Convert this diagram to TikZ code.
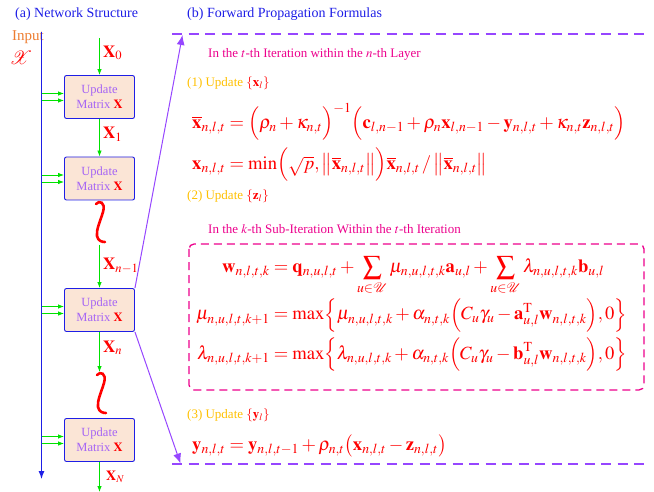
\documentclass[tikz,border=0pt]{standalone}
\usepackage{amsmath}
\usepackage{mathptmx}
\usepackage[no-math]{fontspec}
\setmainfont{Liberation Serif}
\usetikzlibrary{arrows.meta,calc,positioning}

\definecolor{netblue}{RGB}{30,30,230}
\definecolor{ingreen}{RGB}{0,225,0}
\definecolor{boxfill}{RGB}{251,229,214}
\definecolor{boxtext}{RGB}{165,100,245}
\definecolor{linkpurple}{RGB}{150,70,255}
\definecolor{stepyellow}{RGB}{255,192,0}
\definecolor{inorange}{RGB}{237,125,49}

\tikzset{
  layerbox/.style={draw=netblue, line width=0.9pt, fill=boxfill, rounded corners=2pt,
    minimum width=70pt, minimum height=43pt, inner sep=0pt, align=center,
    text=boxtext, font=\fontsize{12.5}{15}\selectfont},
  flow/.style={draw=ingreen, line width=0.8pt, -{Latex[length=6pt,width=4.5pt]}},
  bus/.style={draw=netblue, line width=1pt, -{Latex[length=8pt,width=6pt]}},
  link/.style={draw=linkpurple, line width=1pt, -{Latex[length=10pt,width=8pt]}},
  sepline/.style={draw=linkpurple, line width=1.8pt, dash pattern=on 10pt off 6.5pt},
  vlabel/.style={text=red, font=\fontsize{17}{18}\selectfont, anchor=west, inner sep=0pt},
  heading/.style={text=netblue, font=\fontsize{14}{16}\selectfont, anchor=west, inner sep=0pt},
  stephead/.style={text=stepyellow, font=\fontsize{13}{15}\selectfont, anchor=west, inner sep=0pt},
  loophead/.style={text=magenta, font=\fontsize{13}{15}\selectfont, anchor=west, inner sep=0pt},
  eqn/.style={text=red, font=\fontsize{18.6}{22}\selectfont, anchor=west, inner sep=0pt},
}

\newcommand{\squig}[1]{% vertical red squiggle hanging from (#1)
  \draw[red, line width=2.6pt, line cap=round] (#1)
    .. controls ($(#1)+(3,-4)$) and ($(#1)+(10,-2)$) .. ($(#1)+(7,8)$)
    .. controls ($(#1)+(4,18)$) and ($(#1)+(0,26)$) .. ($(#1)+(1,32)$)
    .. controls ($(#1)+(2,37)$) and ($(#1)+(6,38)$) .. ($(#1)+(9,38)$);
}

\begin{document}
\begin{tikzpicture}[x=1pt,y=-1pt]
  \useasboundingbox (0,0) rectangle (654,492);
  % (a) network
  \node[heading] (titlea) at (15,14) {(a) Network Structure};
  \node[anchor=west, inner sep=0pt, text=inorange, font=\fontsize{15}{16}\selectfont] (inlabel) at (12,37) {Input};
  \node[text=red, inner sep=0pt, font=\fontsize{19}{20}\selectfont] (inset) at (21,58) {$\mathcal{X}$};
  \coordinate (bustop) at (41.5,32);
  \coordinate (busend) at (41.5,479);
  \draw[bus] (bustop) -- (busend);

  \node[layerbox] (upd1) at (99.5,97) {Update\\Matrix {\color{red}$\mathbf{X}$}};
  \node[layerbox] (upd2) at (99.5,178.5) {Update\\Matrix {\color{red}$\mathbf{X}$}};
  \node[layerbox] (upd3) at (99.5,310) {Update\\Matrix {\color{red}$\mathbf{X}$}};
  \node[layerbox] (upd4) at (99.5,440) {Update\\Matrix {\color{red}$\mathbf{X}$}};

  \foreach \b in {upd1,upd2,upd3,upd4} {
    \foreach \d in {-3.5,3.5} {
      \coordinate (tap) at ($(\b.west)+(0,\d)$);
      \draw[flow] (tap -| bustop) -- (tap);
    }
  }

  \coordinate (x0) at (99.5,38);
  \coordinate (sq1) at (96,204);
  \coordinate (sq1end) at (99.5,245);
  \coordinate (sq2top) at (99.5,372);
  \coordinate (sq2) at (97,375);
  \coordinate (xout) at (99.5,492);
  \draw[flow] (x0) -- (upd1.north);
  \draw[flow] (upd1.south) -- (upd2.north);
  \draw[flow] (sq1end) -- (upd3.north);
  \draw[flow] (upd3.south) -- (sq2top);
  \draw[flow] (upd4.south) -- (xout);
  \squig{sq1}
  \squig{sq2}
  \node[vlabel] (lx0) at (103,53) {$\mathbf{X}_0$};
  \node[vlabel] (lx1) at (103,134) {$\mathbf{X}_1$};
  \node[vlabel] (lxn1) at (103,266) {$\mathbf{X}_{n-1}$};
  \node[vlabel] (lxn) at (103,348) {$\mathbf{X}_n$};
  \node[vlabel, font=\fontsize{14}{15}\selectfont] (lxN) at (106,477) {$\mathbf{X}_N$};

  % (b) formulas
  \node[heading] (titleb) at (187,14) {(b) Forward Propagation Formulas};
  \draw[sepline] (172,34) -- (646,34);
  \draw[sepline] (172,464) -- (646,464);
  \coordinate (linktop) at (182.5,35);
  \coordinate (linkbot) at (180.5,463.5);
  \draw[link] (upd3.north east) -- (linktop);
  \draw[link] (upd3.south east) -- (linkbot);

  \node[loophead] (iterhead) at (208,54) {In the $t$-th Iteration within the $n$-th Layer};
  \node[stephead] (step1) at (187,83) {(1) Update {\color{red}$\{\mathbf{x}_l\}$}};
  \node[eqn] (eqxbar) at (192,122) {$\overline{\mathbf{x}}_{n,l,t} = \Bigl(\rho_n + \kappa_{n,t}\Bigr)^{-1} \Bigl(\mathbf{c}_{l,n-1} + \rho_n \mathbf{x}_{l,n-1} - \mathbf{y}_{n,l,t} + \kappa_{n,t}\mathbf{z}_{n,l,t}\Bigr)$};
  \node[eqn] (eqx) at (192,165) {$\mathbf{x}_{n,l,t} = \min\Bigl(\sqrt{p}, \bigl\|\overline{\mathbf{x}}_{n,l,t}\bigr\|\Bigr)\overline{\mathbf{x}}_{n,l,t} \,/\, \bigl\|\overline{\mathbf{x}}_{n,l,t}\bigr\|$};
  \node[stephead] (step2) at (187,196) {(2) Update {\color{red}$\{\mathbf{z}_l\}$}};
  \node[loophead] (subhead) at (208,229) {In the $k$-th Sub-Iteration Within the $t$-th Iteration};
  \draw[magenta, line width=1.3pt, dash pattern=on 8pt off 5pt, rounded corners=5pt] (189,244) rectangle (644,390);
  \node[eqn] (eqw) at (196,314) {$\begin{aligned}
    \mathbf{w}_{n,l,t,k} &= \mathbf{q}_{n,u,l,t} + \sum_{u\in\mathcal{U}} \mu_{n,u,l,t,k}\mathbf{a}_{u,l} + \sum_{u\in\mathcal{U}} \lambda_{n,u,l,t,k}\mathbf{b}_{u,l}\\
    \mu_{n,u,l,t,k+1} &= \max\Bigl\{\mu_{n,u,l,t,k} + \alpha_{n,t,k}\Bigl(C_u\gamma_u - \mathbf{a}_{u,l}^{\mathrm{T}}\mathbf{w}_{n,l,t,k}\Bigr), 0\Bigr\}\\[2pt]
    \lambda_{n,u,l,t,k+1} &= \max\Bigl\{\lambda_{n,u,l,t,k} + \alpha_{n,t,k}\Bigl(C_u\gamma_u - \mathbf{b}_{u,l}^{\mathrm{T}}\mathbf{w}_{n,l,t,k}\Bigr), 0\Bigr\}
  \end{aligned}$};
  \node[stephead] (step3) at (187,415) {(3) Update {\color{red}$\{\mathbf{y}_l\}$}};
  \node[eqn] (eqy) at (192,446) {$\mathbf{y}_{n,l,t} = \mathbf{y}_{n,l,t-1} + \rho_{n,t}\bigl(\mathbf{x}_{n,l,t} - \mathbf{z}_{n,l,t}\bigr)$};
\end{tikzpicture}
\end{document}
